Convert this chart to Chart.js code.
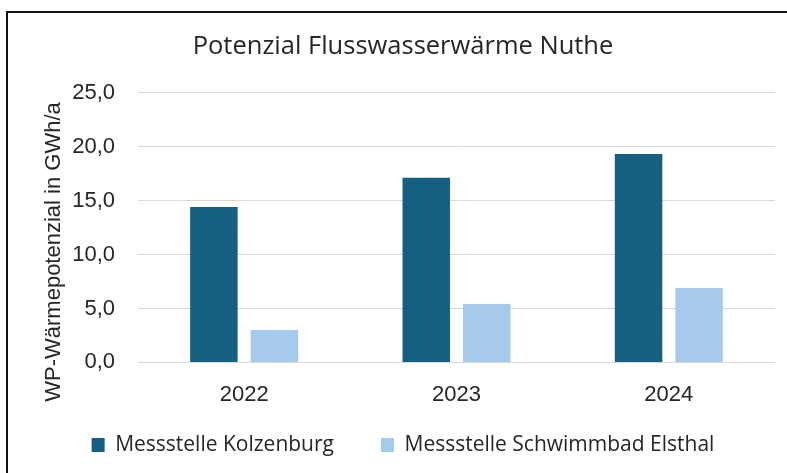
<!DOCTYPE html>
<html>
<head>
<meta charset="utf-8">
<script src="https://cdn.jsdelivr.net/npm/chart.js@4/dist/chart.umd.min.js"></script>
<style>
  html, body { margin: 0; padding: 0; background: #ffffff; overflow: hidden; }
  #wrap { position: relative; width: 787px; height: 473px; }
  #frame { position: absolute; left: 6px; top: 11px; width: 820px; height: 520px;
           border: 2px solid #111; box-sizing: border-box; pointer-events: none; }
  canvas { position: absolute; left: 0; top: 0; }
</style>
</head>
<body>
<div id="wrap">
  <canvas id="chart" width="787" height="473"></canvas>
  <div id="frame"></div>
</div>
<script>
// Jahre und Wärmepumpen-Potenzial je Messstelle (GWh/a)
const categories = ['2022', '2023', '2024'];
const kolzenburg = [14.4, 17.1, 19.3];
const schwimmbadElsthal = [3.0, 5.4, 6.9];
const seriesNames = ['Messstelle Kolzenburg', 'Messstelle Schwimmbad Elsthal'];
const chartTitle = 'Potenzial Flusswasserwärme Nuthe';
const yAxisTitle = 'WP-Wärmepotenzial in GWh/a';
const yMin = 0, yMax = 25, yStep = 5;

const sansUI = "'Open Sans', 'Noto Sans', sans-serif";
const sansAxis = "'Liberation Sans', Arial, sans-serif";

// rotated axis caption, centred on the value axis as a whole
const yTitlePlugin = {
  id: 'yTitlePlugin',
  afterDraw(chart) {
    const ctx = chart.ctx;
    ctx.save();
    ctx.translate(54, 252);
    ctx.rotate(-Math.PI / 2);
    ctx.font = "22px " + sansAxis;
    ctx.fillStyle = '#262626';
    ctx.textAlign = 'center';
    ctx.textBaseline = 'middle';
    ctx.fillText(yAxisTitle, 0, 0);
    ctx.restore();
  }
};

new Chart(document.getElementById('chart'), {
  type: 'bar',
  data: {
    labels: categories,
    datasets: [
      { label: seriesNames[0], data: kolzenburg, backgroundColor: '#156082',
        categoryPercentage: 0.57, barPercentage: 0.785 },
      { label: seriesNames[1], data: schwimmbadElsthal, backgroundColor: '#a6caec',
        categoryPercentage: 0.57, barPercentage: 0.785 }
    ]
  },
  options: {
    responsive: false,
    animation: false,
    layout: { padding: { left: 31, right: 12, top: 10, bottom: 7.6 } },
    plugins: {
      title: {
        display: true,
        text: chartTitle,
        color: '#262626',
        font: { family: sansUI, size: 25.5, weight: 'normal', lineHeight: 1.2 },
        padding: { top: 21, bottom: 31 }
      },
      legend: {
        position: 'bottom',
        labels: {
          color: '#262626',
          font: { family: sansUI, size: 21 },
          boxWidth: 13,
          boxHeight: 14,
          padding: 26,
          // wider gap after each entry (em space)
          generateLabels(chart) {
            const items = Chart.defaults.plugins.legend.labels.generateLabels(chart);
            items.forEach((it, i) => { if (i < items.length - 1) it.text = it.text + '\u2003'; });
            return items;
          }
        }
      },
      tooltip: { enabled: false }
    },
    scales: {
      x: {
        grid: { display: false, drawTicks: false },
        border: { display: false },
        ticks: { color: '#262626', font: { family: sansAxis, size: 22 }, padding: 19 },
        afterFit(scale) { scale.height = 46; }
      },
      y: {
        min: yMin,
        max: yMax,
        grid: { color: '#d9d9d9', lineWidth: 1, drawTicks: false },
        border: { display: false },
        ticks: {
          stepSize: yStep,
          color: '#262626',
          font: { family: sansAxis, size: 22 },
          padding: 23,
          callback: v => v.toFixed(1).replace('.', ',')
        },
        afterFit(scale) { scale.width = 107; }
      }
    }
  },
  plugins: [yTitlePlugin]
});
</script>
</body>
</html>
